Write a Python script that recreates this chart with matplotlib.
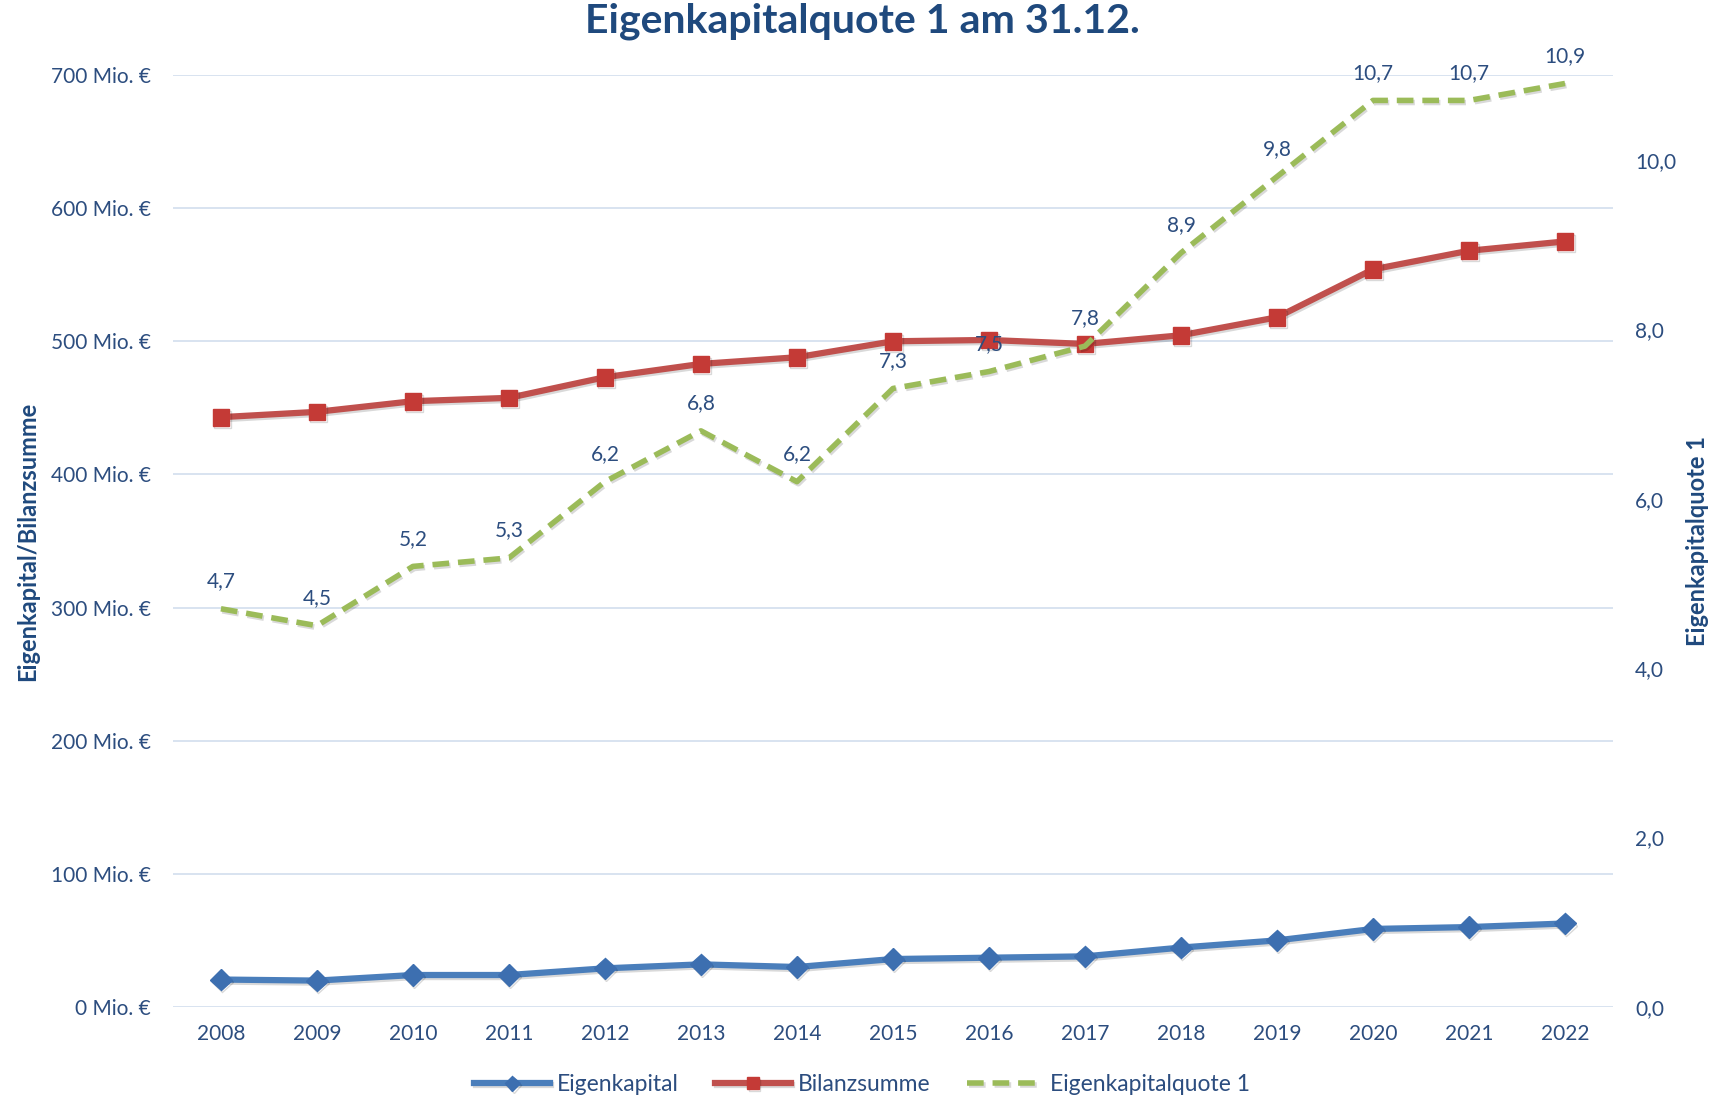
import matplotlib.pyplot as plt
import matplotlib.patheffects as pe
from matplotlib.ticker import FuncFormatter
import numpy as np

jahre = ['2008', '2009', '2010', '2011', '2012', '2013', '2014', '2015',
         '2016', '2017', '2018', '2019', '2020', '2021', '2022']
eigenkapital = [20.6, 19.8, 24, 24, 29, 32, 30, 36, 37, 38, 44.6, 50, 58.6, 60, 62.7]
bilanzsumme = [443, 447, 455, 457.5, 473, 483, 488, 500, 501, 498, 504.5, 518, 554, 568, 575]
quote = [4.7, 4.5, 5.2, 5.3, 6.2, 6.8, 6.2, 7.3, 7.5, 7.8, 8.9, 9.8, 10.7, 10.7, 10.9]

textfarbe = '#2C4D7F'
titelfarbe = '#1F497D'
plt.rcParams['font.family'] = ['Lato', 'DejaVu Sans']

x = np.arange(len(jahre))
schatten = [pe.SimpleLineShadow(offset=(1, -1.5), alpha=0.15), pe.Normal()]

fig = plt.figure(figsize=(17.24, 10.95), dpi=100)
ax = fig.add_axes([0.1003, 0.0804, 0.8353, 0.8511])
ax2 = ax.twinx()

l1, = ax.plot(x, eigenkapital, color='#4A7EBB', lw=4.5, marker='D', ms=11,
              markerfacecolor='#3D6FB0', markeredgecolor='#3D6FB0',
              path_effects=schatten, zorder=3)
l2, = ax.plot(x, bilanzsumme, color='#C0504D', lw=4.5, marker='s', ms=12,
              markerfacecolor='#C43A36', markeredgecolor='#C43A36',
              path_effects=schatten, zorder=3)
l3, = ax2.plot(x, quote, color='#9BBB59', lw=4, ls=(0, (3, 1.6)),
               path_effects=schatten, zorder=3)

for xi, q in zip(x, quote):
    ax2.annotate(f'{q:.1f}'.replace('.', ','), (xi, q), xytext=(0, 20),
                 textcoords='offset points', ha='center', va='center',
                 fontsize=15, color=textfarbe)

ax.set_xlim(-0.5, len(jahre) - 0.5)
ax.set_ylim(0, 700)
ax2.set_ylim(0, 11)
ax.set_yticks(np.arange(0, 701, 100))
ax2.set_yticks(np.arange(0, 11, 2))
ax.yaxis.set_major_formatter(FuncFormatter(lambda v, p: f'{v:.0f} Mio. €'))
ax2.yaxis.set_major_formatter(FuncFormatter(lambda v, p: f'{v:.1f}'.replace('.', ',')))
ax.set_xticks(x)
ax.set_xticklabels(jahre)

ax.grid(axis='y', color='#D5E0EF', lw=1.3)
ax.set_axisbelow(True)
for a in (ax, ax2):
    for s in a.spines.values():
        s.set_visible(False)
    a.tick_params(length=0, labelsize=15, colors=textfarbe)
ax.tick_params(axis='y', pad=16)
ax2.tick_params(axis='y', pad=16)
ax.tick_params(axis='x', pad=12)

ax.set_ylabel('Eigenkapital/Bilanzsumme', fontsize=17, fontweight='bold',
              color=titelfarbe)
ax.yaxis.set_label_coords(-0.093, 0.5)
ax2.set_ylabel('Eigenkapitalquote 1', fontsize=17, fontweight='bold',
               color=titelfarbe, rotation=90)
ax2.yaxis.set_label_coords(1.051, 0.5)
fig.suptitle('Eigenkapitalquote 1 am 31.12.', fontsize=29.5, fontweight='bold',
             color=titelfarbe, y=0.998)

fig.legend([l1, l2, l3], ['Eigenkapital', 'Bilanzsumme', 'Eigenkapitalquote 1'],
           loc='lower center', bbox_to_anchor=(0.5, -0.019), ncol=3, frameon=False,
           fontsize=16.5, labelcolor=textfarbe, handlelength=3.3, columnspacing=1.6,
           handletextpad=0.3, markerscale=0.7)

fig.savefig('out.png', dpi=100)
